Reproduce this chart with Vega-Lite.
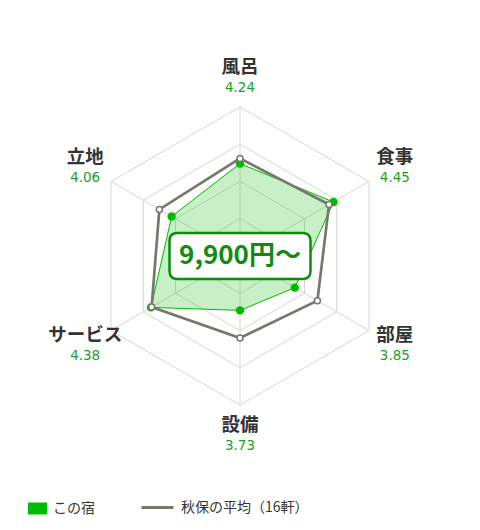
{
  "$schema": "https://vega.github.io/schema/vega-lite/v6.json",
  "description": "Radar chart of ratings",
  "width": 480,
  "height": 530,
  "padding": 0,
  "autosize": {"type": "none"},
  "background": "white",
  "config": {"view": {"stroke": null}, "font": "Noto Sans CJK JP", "legend": {"padding": 0}},
  "datasets": {
    "scores": [
      {"item": "風呂", "order": 0, "series": "この宿", "score": 4.24},
      {"item": "食事", "order": 1, "series": "この宿", "score": 4.45},
      {"item": "部屋", "order": 2, "series": "この宿", "score": 3.85},
      {"item": "設備", "order": 3, "series": "この宿", "score": 3.73},
      {"item": "サービス", "order": 4, "series": "この宿", "score": 4.38},
      {"item": "立地", "order": 5, "series": "この宿", "score": 4.06},
      {"item": "風呂", "order": 0, "series": "秋保の平均（16軒）", "score": 4.31},
      {"item": "食事", "order": 1, "series": "秋保の平均（16軒）", "score": 4.38},
      {"item": "部屋", "order": 2, "series": "秋保の平均（16軒）", "score": 4.2},
      {"item": "設備", "order": 3, "series": "秋保の平均（16軒）", "score": 4.1},
      {"item": "サービス", "order": 4, "series": "秋保の平均（16軒）", "score": 4.37},
      {"item": "立地", "order": 5, "series": "秋保の平均（16軒）", "score": 4.25}
    ],
    "grid": [
      {"level": 3.5, "order": 0}, {"level": 3.5, "order": 1}, {"level": 3.5, "order": 2},
      {"level": 3.5, "order": 3}, {"level": 3.5, "order": 4}, {"level": 3.5, "order": 5},
      {"level": 4, "order": 0}, {"level": 4, "order": 1}, {"level": 4, "order": 2},
      {"level": 4, "order": 3}, {"level": 4, "order": 4}, {"level": 4, "order": 5},
      {"level": 4.5, "order": 0}, {"level": 4.5, "order": 1}, {"level": 4.5, "order": 2},
      {"level": 4.5, "order": 3}, {"level": 4.5, "order": 4}, {"level": 4.5, "order": 5},
      {"level": 5, "order": 0}, {"level": 5, "order": 1}, {"level": 5, "order": 2},
      {"level": 5, "order": 3}, {"level": 5, "order": 4}, {"level": 5, "order": 5}
    ],
    "price": [{"label": "9,900円～"}]
  },
  "encoding": {
    "x": {"field": "x", "type": "quantitative", "axis": null,
          "scale": {"domain": [-1.611, 1.611], "nice": false, "zero": false}},
    "y": {"field": "y", "type": "quantitative", "axis": null,
          "scale": {"domain": [-1.839, 1.718], "nice": false, "zero": false}}
  },
  "layer": [
    {
      "data": {"name": "grid"},
      "transform": [
        {"calculate": "(datum.level - 3) / 2", "as": "r"},
        {"calculate": "datum.r * sin(datum.order * PI / 3)", "as": "x"},
        {"calculate": "datum.r * cos(datum.order * PI / 3)", "as": "y"}
      ],
      "mark": {"type": "line", "interpolate": "linear-closed", "stroke": "#d6d6cf", "strokeWidth": 1},
      "encoding": {
        "detail": {"field": "level"},
        "order": {"field": "order"}
      }
    },
    {
      "data": {"name": "grid"},
      "transform": [
        {"filter": "datum.level == 5"},
        {"calculate": "sin(datum.order * PI / 3)", "as": "x"},
        {"calculate": "cos(datum.order * PI / 3)", "as": "y"}
      ],
      "mark": {"type": "rule", "stroke": "#d6d6cf", "strokeWidth": 1},
      "encoding": {"x2": {"datum": 0}, "y2": {"datum": 0}}
    },
    {
      "data": {"name": "scores"},
      "transform": [
        {"filter": "datum.series == 'この宿'"},
        {"calculate": "(datum.score - 3) / 2", "as": "r"},
        {"calculate": "datum.r * sin(datum.order * PI / 3)", "as": "x"},
        {"calculate": "datum.r * cos(datum.order * PI / 3)", "as": "y"}
      ],
      "mark": {"type": "line", "interpolate": "linear-closed", "stroke": "#00bb00", "fill": "#00bb00", "fillOpacity": 0.22, "strokeWidth": 1},
      "encoding": {"order": {"field": "order"}}
    },
    {
      "data": {"name": "scores"},
      "transform": [
        {"filter": "datum.series != 'この宿'"},
        {"calculate": "(datum.score - 3) / 2", "as": "r"},
        {"calculate": "datum.r * sin(datum.order * PI / 3)", "as": "x"},
        {"calculate": "datum.r * cos(datum.order * PI / 3)", "as": "y"}
      ],
      "mark": {"type": "line", "interpolate": "linear-closed", "strokeWidth": 2.7},
      "encoding": {
        "order": {"field": "order"},
        "stroke": {
          "field": "series", "type": "nominal",
          "scale": {"domain": ["秋保の平均（16軒）"], "range": ["#78776f"]},
          "legend": {
            "orient": "none", "legendX": 140, "legendY": 490, "title": null,
            "symbolType": "stroke", "symbolSize": 1024, "symbolStrokeWidth": 3,
            "labelFont": "Noto Sans CJK JP", "labelFontSize": 14, "labelColor": "#333333",
            "labelOffset": 6
          }
        }
      }
    },
    {
      "data": {"name": "scores"},
      "transform": [
        {"filter": "datum.series == 'この宿'"},
        {"calculate": "(datum.score - 3) / 2", "as": "r"},
        {"calculate": "datum.r * sin(datum.order * PI / 3)", "as": "x"},
        {"calculate": "datum.r * cos(datum.order * PI / 3)", "as": "y"}
      ],
      "mark": {"type": "point", "filled": true, "size": 70, "opacity": 1},
      "encoding": {
        "fill": {
          "field": "series", "type": "nominal",
          "scale": {"domain": ["この宿"], "range": ["#00bb00"]},
          "legend": {
            "orient": "none", "legendX": 28, "legendY": 499, "title": null,
            "symbolType": "M -1 -0.63 H 1 V 0.63 H -1 Z", "symbolSize": 361, "symbolStrokeWidth": 0,
            "symbolOpacity": 1,
            "labelFont": "Noto Sans CJK JP", "labelFontSize": 14, "labelColor": "#333333",
            "labelOffset": 6
          }
        }
      }
    },
    {
      "data": {"name": "scores"},
      "transform": [
        {"filter": "datum.series != 'この宿'"},
        {"calculate": "(datum.score - 3) / 2", "as": "r"},
        {"calculate": "datum.r * sin(datum.order * PI / 3)", "as": "x"},
        {"calculate": "datum.r * cos(datum.order * PI / 3)", "as": "y"}
      ],
      "mark": {"type": "point", "filled": true, "fill": "white", "stroke": "#78776f", "strokeWidth": 1.5, "size": 36, "opacity": 1}
    },
    {
      "data": {"name": "scores"},
      "transform": [
        {"filter": "datum.series == 'この宿'"},
        {"calculate": "1.2 * sin(datum.order * PI / 3)", "as": "x"},
        {"calculate": "1.2 * cos(datum.order * PI / 3)", "as": "y"}
      ],
      "mark": {"type": "text", "dy": -10, "fontSize": 18.5, "fontWeight": "bold", "font": "Noto Sans CJK JP", "color": "#333333", "baseline": "middle"},
      "encoding": {"text": {"field": "item"}}
    },
    {
      "data": {"name": "scores"},
      "transform": [
        {"filter": "datum.series == 'この宿'"},
        {"calculate": "1.2 * sin(datum.order * PI / 3)", "as": "x"},
        {"calculate": "1.2 * cos(datum.order * PI / 3)", "as": "y"}
      ],
      "mark": {"type": "text", "dy": 11, "fontSize": 13.5, "font": "DejaVu Sans", "color": "#229f22", "baseline": "middle"},
      "encoding": {"text": {"field": "score", "type": "quantitative", "format": ".2f"}}
    },
    {
      "data": {"name": "price"},
      "transform": [
        {"calculate": "0", "as": "x"},
        {"calculate": "0", "as": "y"}
      ],
      "mark": {
        "type": "point",
        "shape": "M -0.887 -0.326 L 0.887 -0.326 Q 1 -0.326 1 -0.213 L 1 0.213 Q 1 0.326 0.887 0.326 L -0.887 0.326 Q -1 0.326 -1 0.213 L -1 -0.213 Q -1 -0.326 -0.887 -0.326 Z",
        "size": 19881, "filled": true, "fill": "white", "stroke": "#118a11", "strokeWidth": 2.5, "opacity": 1
      }
    },
    {
      "data": {"name": "price"},
      "transform": [
        {"calculate": "0", "as": "x"},
        {"calculate": "0", "as": "y"}
      ],
      "mark": {"type": "text", "fontSize": 26, "fontWeight": "bold", "font": "Noto Sans CJK JP", "color": "#118a11", "baseline": "middle"},
      "encoding": {"text": {"field": "label"}}
    }
  ]
}
